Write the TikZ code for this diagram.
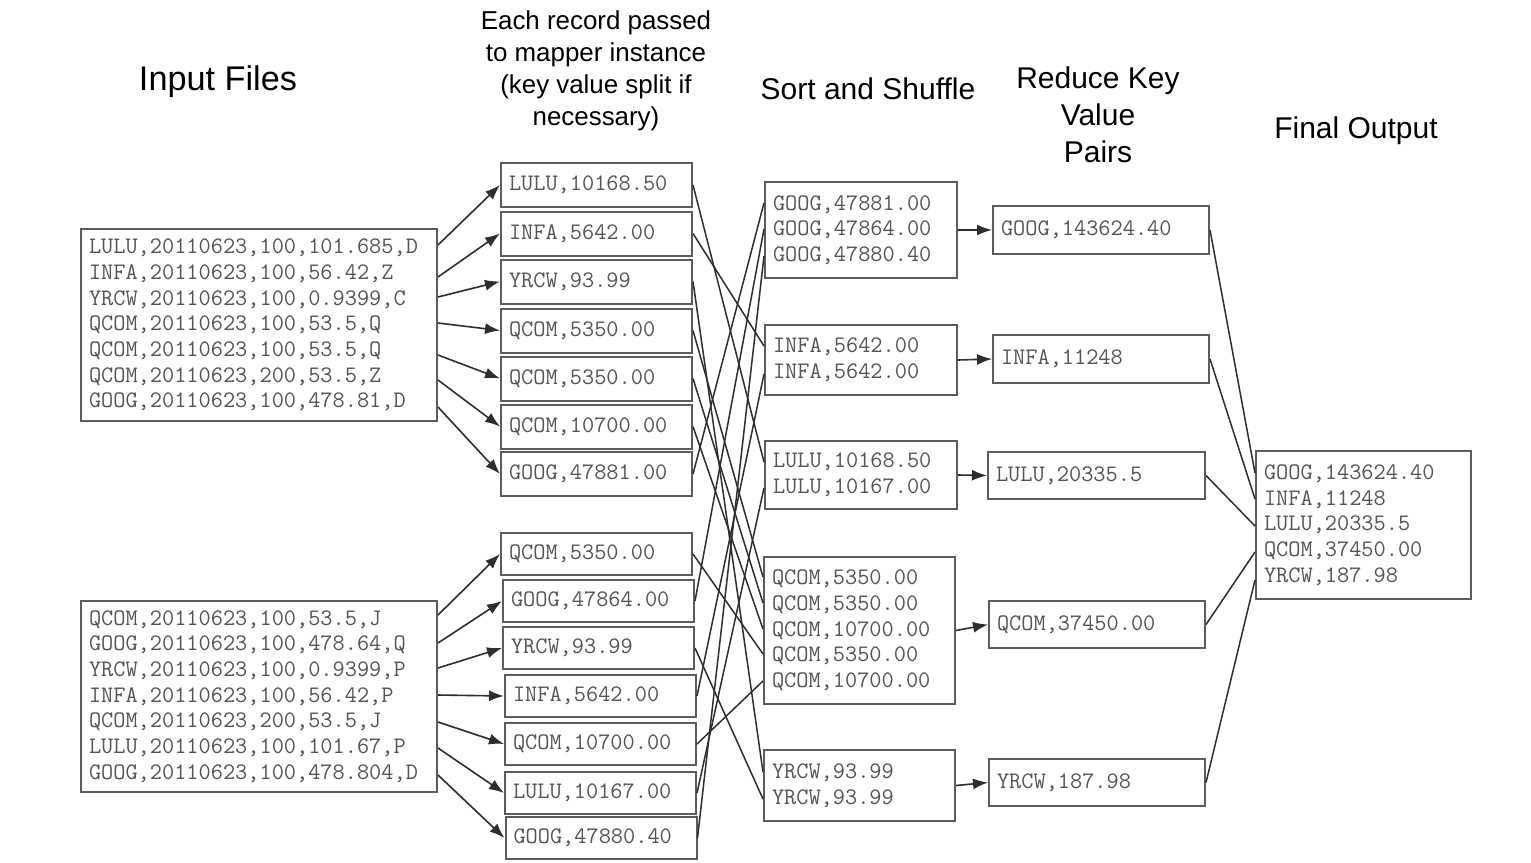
\documentclass[tikz,border=0pt]{standalone}
\usepackage{fontspec}
\newfontfamily\hv{Liberation Sans}
\usetikzlibrary{arrows.meta}
\definecolor{boxgray}{HTML}{5C5C5C}
\definecolor{txtgray}{HTML}{545454}
\definecolor{linegray}{HTML}{2E2E2E}
\newcommand\monotxt{\ttfamily\fontsize{23.66}{25.7}\selectfont}
\begin{document}
\begin{tikzpicture}[x=1pt,y=-1pt,
  rec/.style={draw=boxgray,line width=2pt,inner xsep=8pt,inner ysep=0pt,align=left,font=\monotxt,text=txtgray},
  mapbox/.style={rec,text width=175pt,minimum height=44pt},
  mapboxb/.style={rec,text width=175pt,minimum height=42pt},
  shbox/.style={rec,text width=176pt},
  redbox/.style={rec,text width=200pt,minimum height=48pt},
  title/.style={align=center,text=black,inner sep=0pt},
  arr/.style={draw=linegray,line width=1.6pt,-{Latex[length=15pt,width=11pt]}},
  conn/.style={draw=linegray,line width=1.5pt}]
\useasboundingbox (0,0) rectangle (1531,862);
\fill[white] (0,0) rectangle (1531,862);

% titles
\node[title,font=\hv\fontsize{34.25}{40}\selectfont] (t1) at (218,82) {Input Files};
\node[title,font=\hv\fontsize{25.9}{32}\selectfont] (t2) at (596,71) {Each record passed\\to mapper instance\\(key value split if\\necessary)};
\node[title,font=\hv\fontsize{30}{36}\selectfont] (t3) at (868,89) {Sort and Shuffle};
\node[title,font=\hv\fontsize{30}{37}\selectfont] (t4) at (1098,115) {Reduce Key\\Value\\Pairs};
\node[title,font=\hv\fontsize{30}{36}\selectfont] (t5) at (1356,131) {Final Output};

% input files
\node[rec,text width=340pt,minimum height=192pt] (in1) at (259,325) {LULU,20110623,100,101.685,D\\INFA,20110623,100,56.42,Z\\YRCW,20110623,100,0.9399,C\\QCOM,20110623,100,53.5,Q\\QCOM,20110623,100,53.5,Q\\QCOM,20110623,200,53.5,Z\\GOOG,20110623,100,478.81,D};
\node[rec,text width=340pt,minimum height=191pt] (in2) at (259,696.5) {QCOM,20110623,100,53.5,J\\GOOG,20110623,100,478.64,Q\\YRCW,20110623,100,0.9399,P\\INFA,20110623,100,56.42,P\\QCOM,20110623,200,53.5,J\\LULU,20110623,100,101.67,P\\GOOG,20110623,100,478.804,D};

% mapper outputs
\node[mapbox] (m1) at (596.5,185) {LULU,10168.50};
\node[mapbox] (m2) at (596.5,233.5) {INFA,5642.00};
\node[mapbox] (m3) at (596.5,281.5) {YRCW,93.99};
\node[mapbox] (m4) at (596.5,330.5) {QCOM,5350.00};
\node[mapbox] (m5) at (596.5,378.5) {QCOM,5350.00};
\node[mapbox] (m6) at (596.5,426.5) {QCOM,10700.00};
\node[mapbox] (m7) at (596.5,474) {GOOG,47881.00};
\node[mapboxb] (b1) at (596.5,554) {QCOM,5350.00};
\node[mapboxb] (b2) at (598.5,601) {GOOG,47864.00};
\node[mapboxb] (b3) at (598.5,648) {YRCW,93.99};
\node[mapboxb] (b4) at (600.5,696) {INFA,5642.00};
\node[mapboxb] (b5) at (600.5,744) {QCOM,10700.00};
\node[mapboxb] (b6) at (600.5,793) {LULU,10167.00};
\node[mapboxb] (b7) at (601,838) {GOOG,47880.40};

% sort and shuffle
\node[shbox,minimum height=96pt] (s1) at (861,230) {GOOG,47881.00\\GOOG,47864.00\\GOOG,47880.40};
\node[shbox,minimum height=70pt] (s2) at (861,360) {INFA,5642.00\\INFA,5642.00};
\node[shbox,minimum height=68pt] (s3) at (861,475) {LULU,10168.50\\LULU,10167.00};
\node[shbox,text width=175pt,minimum height=147pt] (s4) at (859.5,630.5) {QCOM,5350.00\\QCOM,5350.00\\QCOM,10700.00\\QCOM,5350.00\\QCOM,10700.00};
\node[shbox,text width=175pt,minimum height=71pt] (s5) at (859.5,785.5) {YRCW,93.99\\YRCW,93.99};

% reduce
\node[redbox] (r1) at (1101,230) {GOOG,143624.40};
\node[redbox] (r2) at (1101,359) {INFA,11248};
\node[redbox,text width=201pt,minimum height=47pt] (r3) at (1096.5,475.5) {LULU,20335.5};
\node[redbox,minimum height=47pt] (r4) at (1097,624.5) {QCOM,37450.00};
\node[redbox,minimum height=47pt] (r5) at (1097,782.5) {YRCW,187.98};

% final
\node[rec,text width=199pt,minimum height=148pt] (f) at (1363.5,525) {GOOG,143624.40\\INFA,11248\\LULU,20335.5\\QCOM,37450.00\\YRCW,187.98};

% input -> mapper
\draw[arr] ([yshift=80pt]in1.east) -- (m1.west);
\draw[arr] ([yshift=48pt]in1.east) -- (m2.west);
\draw[arr] ([yshift=28pt]in1.east) -- (m3.west);
\draw[arr] ([yshift=2pt]in1.east) -- (m4.west);
\draw[arr] ([yshift=-30pt]in1.east) -- (m5.west);
\draw[arr] ([yshift=-55pt]in1.east) -- (m6.west);
\draw[arr] ([yshift=-82pt]in1.east) -- (m7.west);
\draw[arr] ([yshift=81.5pt]in2.east) -- (b1.west);
\draw[arr] ([yshift=53.5pt]in2.east) -- (b2.west);
\draw[arr] ([yshift=28.5pt]in2.east) -- (b3.west);
\draw[arr] ([yshift=1.5pt]in2.east) -- (b4.west);
\draw[arr] ([yshift=-25.5pt]in2.east) -- (b5.west);
\draw[arr] ([yshift=-51.5pt]in2.east) -- (b6.west);
\draw[arr] ([yshift=-78.5pt]in2.east) -- (b7.west);

% mapper -> shuffle
\draw[conn] (m7.east) -- ([yshift=27pt]s1.west);
\draw[conn] (b2.east) -- ([yshift=1pt]s1.west);
\draw[conn] (b7.east) -- ([yshift=-26pt]s1.west);
\draw[conn] (m2.east) -- ([yshift=14pt]s2.west);
\draw[conn] (b4.east) -- ([yshift=-14pt]s2.west);
\draw[conn] (m1.east) -- ([yshift=13pt]s3.west);
\draw[conn] (b6.east) -- ([yshift=-13pt]s3.west);
\draw[conn] (m4.east) -- ([yshift=53.5pt]s4.west);
\draw[conn] (m5.east) -- ([yshift=27.5pt]s4.west);
\draw[conn] (m6.east) -- ([yshift=1.5pt]s4.west);
\draw[conn] (b1.east) -- ([yshift=-23.5pt]s4.west);
\draw[conn] (b5.east) -- ([yshift=-50.5pt]s4.west);
\draw[conn] (m3.east) -- ([yshift=13.5pt]s5.west);
\draw[conn] (b3.east) -- ([yshift=-13.5pt]s5.west);

% shuffle -> reduce
\draw[arr] (s1.east) -- (r1.west);
\draw[arr] (s2.east) -- (r2.west);
\draw[arr] (s3.east) -- (r3.west);
\draw[arr] (s4.east) -- (r4.west);
\draw[arr] (s5.east) -- (r5.west);

% reduce -> final
\draw[conn] (r1.east) -- ([yshift=52pt]f.west);
\draw[conn] (r2.east) -- ([yshift=26pt]f.west);
\draw[conn] (r3.east) -- ([yshift=-1pt]f.west);
\draw[conn] (r4.east) -- ([yshift=-27pt]f.west);
\draw[conn] (r5.east) -- ([yshift=-55pt]f.west);
\end{tikzpicture}
\end{document}
